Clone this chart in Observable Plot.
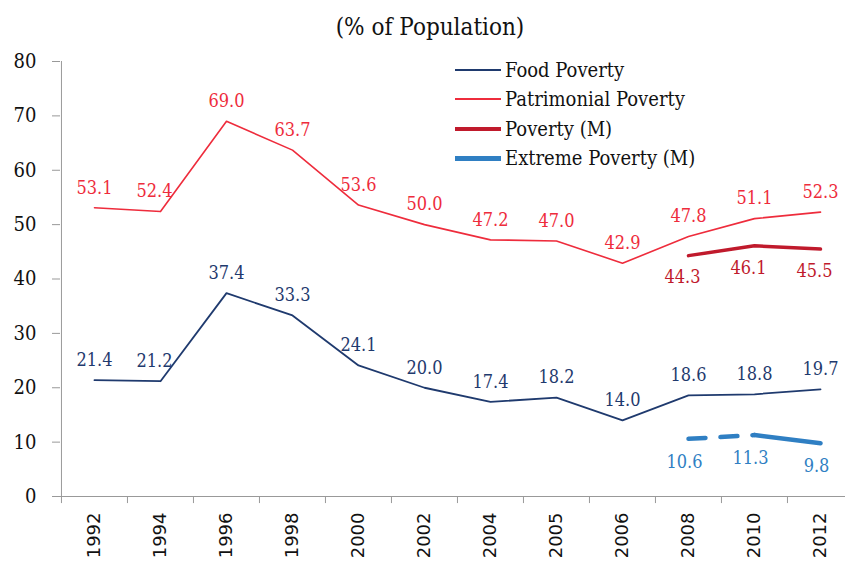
<!DOCTYPE html>
<html>
<head>
<meta charset="utf-8">
<script src="https://cdn.jsdelivr.net/npm/d3@7"></script>
<script src="https://cdn.jsdelivr.net/npm/@observablehq/plot@0.6"></script>
<style>
  body { margin: 0; background: #fff; }
  #wrap { position: relative; width: 845px; height: 566px; font-family: "DejaVu Serif Condensed", "Liberation Serif", serif; }
  #title { position: absolute; left: 0; width: 860px; top: 11px; text-align: center; font-size: 24px; line-height: 32px; color: #111; }
  #legend { position: absolute; left: 455px; top: 55px; font-size: 20px; color: #111; }
  .row { display: flex; align-items: center; height: 29.5px; }
  .sw { width: 46px; margin-right: 4px; }
</style>
</head>
<body>
<div id="wrap">
  <div id="title">(% of Population)</div>
  <div id="chart"></div>
  <div id="legend"></div>
</div>
<script>
const years = ["1992","1994","1996","1998","2000","2002","2004","2005","2006","2008","2010","2012"];
const food = [21.4,21.2,37.4,33.3,24.1,20.0,17.4,18.2,14.0,18.6,18.8,19.7];
const patrimonial = [53.1,52.4,69.0,63.7,53.6,50.0,47.2,47.0,42.9,47.8,51.1,52.3];
const mYears = ["2008","2010","2012"];
const povertyM = [44.3,46.1,45.5];
const extremeM = [10.6,11.3,9.8];
const yTicks = [0,10,20,30,40,50,60,70,80];
const seriesNames = ["Food Poverty","Patrimonial Poverty","Poverty (M)","Extreme Poverty (M)"];
const seriesColors = ["#1f3a6e","#ee2c3c","#c01a2c","#2f7fc3"];
const seriesWidths = [1.8,1.6,3.5,4.5];

const fmt = v => v.toFixed(1);
const bw = (853 - 60) / years.length;
const serif = "DejaVu Serif Condensed, Liberation Serif, serif";

const foodData = years.map((x, i) => ({x, y: food[i]}));
const patData = years.map((x, i) => ({x, y: patrimonial[i]}));
const povData = mYears.map((x, i) => ({x, y: povertyM[i]}));
const extData = mYears.map((x, i) => ({x, y: extremeM[i]}));

const chart = Plot.plot({
  width: 845,
  height: 566,
  marginLeft: 60,
  marginRight: 0,
  marginTop: 61,
  marginBottom: 70,
  x: {type: "band", domain: years, range: [60, 853], padding: 0},
  y: {domain: [0, 80]},
  style: {background: "transparent"},
  marks: [
    Plot.axisY(yTicks, {tickSize: 8, tickPadding: 16, fontSize: 20, fontFamily: serif, stroke: "#999", color: "#111", label: null}),
    Plot.axisX({tickSize: 0, tickRotate: -90, tickPadding: 16, fontSize: 18, fontFamily: "DejaVu Sans", color: "#111", label: null}),
    Plot.ruleX([years[0]], {x: d => d, dx: -bw / 2, y1: 0, y2: 80, stroke: "#999"}),
    Plot.ruleY([0], {stroke: "#999"}),
    Plot.ruleX(years, {x: d => d, dx: -bw / 2, y1: 0, y2: -1.3, stroke: "#999", clip: false}),
    Plot.line(patData, {x: "x", y: "y", stroke: seriesColors[1], strokeWidth: seriesWidths[1]}),
    Plot.line(foodData, {x: "x", y: "y", stroke: seriesColors[0], strokeWidth: seriesWidths[0]}),
    Plot.line(povData, {x: "x", y: "y", stroke: seriesColors[2], strokeWidth: seriesWidths[2]}),
    Plot.line(extData.slice(0, 2), {x: "x", y: "y", stroke: seriesColors[3], strokeWidth: seriesWidths[3], strokeDasharray: "17,15"}),
    Plot.line(extData.slice(1), {x: "x", y: "y", stroke: seriesColors[3], strokeWidth: seriesWidths[3]}),
    Plot.text(patData.filter(d => d.x !== "1994"), {x: "x", y: "y", text: d => fmt(d.y), dy: -20, fill: seriesColors[1], fontSize: 18, fontFamily: serif}),
    Plot.text(patData.filter(d => d.x === "1994"), {x: "x", y: "y", text: d => fmt(d.y), dy: -20, dx: -6, fill: seriesColors[1], fontSize: 18, fontFamily: serif}),
    Plot.text(foodData.filter(d => d.x !== "1994"), {x: "x", y: "y", text: d => fmt(d.y), dy: -20, fill: seriesColors[0], fontSize: 18, fontFamily: serif}),
    Plot.text(foodData.filter(d => d.x === "1994"), {x: "x", y: "y", text: d => fmt(d.y), dy: -20, dx: -6, fill: seriesColors[0], fontSize: 18, fontFamily: serif}),
    Plot.text(povData, {x: "x", y: "y", text: d => fmt(d.y), dy: 22, dx: -6, fill: seriesColors[2], fontSize: 18, fontFamily: serif}),
    Plot.text(extData, {x: "x", y: "y", text: d => fmt(d.y), dy: 23, dx: -4, fill: seriesColors[3], fontSize: 18, fontFamily: serif})
  ]
});
document.getElementById("chart").appendChild(chart);

const legend = document.getElementById("legend");
seriesNames.forEach((name, i) => {
  const row = document.createElement("div");
  row.className = "row";
  const sw = document.createElement("div");
  sw.className = "sw";
  sw.style.height = seriesWidths[i] + "px";
  sw.style.background = seriesColors[i];
  const t = document.createElement("span");
  t.textContent = name;
  row.appendChild(sw);
  row.appendChild(t);
  legend.appendChild(row);
});
</script>
</body>
</html>
